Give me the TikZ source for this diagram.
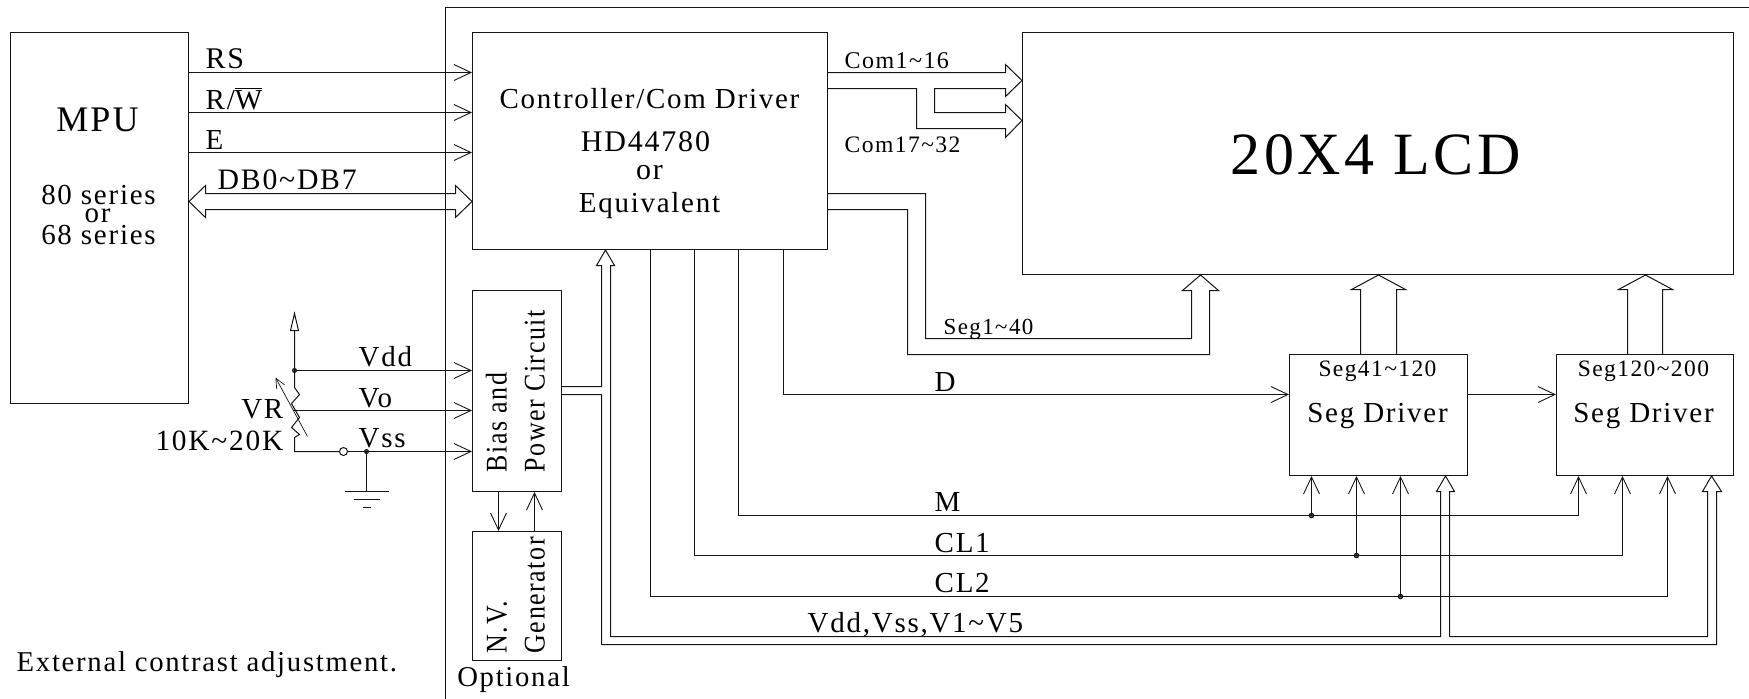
\documentclass[tikz,border=0pt]{standalone}
\usepackage{fontspec}
\usepackage{graphicx}
\setmainfont[LetterSpace=6]{Liberation Serif}
\usetikzlibrary{arrows.meta}
\newcommand\fz[1]{\fontsize{#1}{#1}\selectfont}
\newcommand\ovl[1]{\leavevmode\setbox0\hbox{#1}\rlap{\raisebox{1.12\ht0}{\rule{\wd0}{0.7pt}}}\box0}
\newcommand\narrow[1]{\scalebox{0.865}[1]{#1}}
\tikzset{
  wire/.style={line width=1pt,black!92},
  sig/.style={wire,-{Straight Barb[length=17pt,width=16pt,line width=0.9pt]}},
  fat/.style={wire,line join=miter},
  block/.style={draw,wire,rectangle,inner sep=0pt},
  lbl/.style={inner sep=0pt,anchor=base west,text=black},
  clbl/.style={inner sep=0pt,anchor=base,text=black},
  rlbl/.style={inner sep=0pt,anchor=base east,text=black},
  vlbl/.style={inner sep=0pt,anchor=base west,rotate=90,text=black},
  junction/.style={circle,draw,wire,fill=black!60,inner sep=0pt,minimum size=4.5pt},
  hollow/.style={circle,draw,wire,fill=white,inner sep=0pt,minimum size=8pt},
}
\begin{document}
\begin{tikzpicture}[x=1pt,y=-1pt,shift={(0.5,0.5)}]
\useasboundingbox (-0.5,-0.5) rectangle (1748.5,698.5);
% frame
\coordinate (frTR) at (1749,7);
\coordinate (frTL) at (445,7);
\coordinate (frBL) at (445,699);
\draw[wire] (frTR) -- (frTL) -- (frBL);
% blocks
\node[block,minimum width=178pt,minimum height=371pt] (mpu) at (99,217.5) {};
\node[block,minimum width=355pt,minimum height=217pt] (ctrl) at (649.5,140.5) {};
\node[block,minimum width=711pt,minimum height=242pt] (lcd) at (1377.5,153) {};
\node[block,minimum width=89pt,minimum height=201pt] (bias) at (516.5,390.5) {};
\node[block,minimum width=89pt,minimum height=129pt] (nv) at (516.5,595.5) {};
\node[block,minimum width=178pt,minimum height=121pt] (drvA) at (1378,414.5) {};
\node[block,minimum width=177pt,minimum height=121pt] (drvB) at (1644.5,414.5) {};
% MPU signals
\draw[sig] (mpu.east |- 0,72) -- (ctrl.west |- 0,72);
\draw[sig] (mpu.east |- 0,112) -- (ctrl.west |- 0,112);
\draw[sig] (mpu.east |- 0,152) -- (ctrl.west |- 0,152);
\draw[fat] (mpu.east |- 0,201) -- (205,185) -- (205,193) -- (455,193) -- (455,185) -- (ctrl.west |- 0,201)
  -- (455,217) -- (455,209) -- (205,209) -- (205,217) -- cycle;
% Com buses
\draw[fat] (ctrl.east |- 0,72) -- (1005,72) -- (1005,64) -- (lcd.west |- 0,80) -- (1005,96) -- (1005,88) -- (934,88)
  -- (934,112) -- (1005,112) -- (1005,104) -- (lcd.west |- 0,120) -- (1005,137) -- (1005,128) -- (916,128)
  -- (916,88) -- (ctrl.east |- 0,88);
% Seg1~40
\draw[fat] (ctrl.east |- 0,193) -- (925,193) -- (925,338) -- (1191,338) -- (1191,290) -- (1182,290)
  -- (lcd.south -| 1200,0) -- (1218,290) -- (1209,290) -- (1209,354) -- (907,354) -- (907,209) -- (ctrl.east |- 0,209);
% Seg driver buses to LCD
\draw[fat] (drvA.north -| 1360,0) -- (1360,289) -- (1351,289) -- (lcd.south -| 1378,0) -- (1405,289) -- (1396,289) -- (drvA.north -| 1396,0);
\draw[fat] (drvB.north -| 1627,0) -- (1627,289) -- (1618,289) -- (lcd.south -| 1645,0) -- (1672,289) -- (1662,289) -- (drvB.north -| 1662,0);
% D
\draw[sig] (ctrl.south -| 783,0) |- (drvA.west |- 0,394);
\draw[sig] (drvA.east |- 0,394) -- (drvB.west |- 0,394);
% M, CL1, CL2
\node[junction] (jM) at (1311,515) {};
\node[junction] (jC1) at (1356,555) {};
\node[junction] (jC2) at (1400,596) {};
\draw[wire] (ctrl.south -| 738,0) |- (jM.center);
\draw[sig] (jM.center) -| (drvB.south -| 1578,0);
\draw[sig] (jM.center) -- (drvA.south -| jM);
\draw[wire] (ctrl.south -| 694,0) |- (jC1.center);
\draw[sig] (jC1.center) -| (drvB.south -| 1622,0);
\draw[sig] (jC1.center) -- (drvA.south -| jC1);
\draw[wire] (ctrl.south -| 650,0) |- (jC2.center);
\draw[sig] (jC2.center) -| (drvB.south -| 1667,0);
\draw[sig] (jC2.center) -- (drvA.south -| jC2);
% Power bus
\draw[fat] (bias.east |- 0,386) -- (601,386) -- (601,265) -- (596,265) -- (ctrl.south -| 605,0) -- (614,265) -- (610,265)
  -- (610,636) -- (1440,636) -- (1440,491) -- (1436,491) -- (drvA.south -| 1445,0) -- (1454,491) -- (1449,491)
  -- (1449,636) -- (1707,636) -- (1707,491) -- (1702,491) -- (drvB.south -| 1711,0) -- (1721,491) -- (1716,491)
  -- (1716,644) -- (601,644) -- (601,394) -- (bias.east |- 0,394);
% Bias <-> NV
\draw[sig] (bias.south -| 498,0) -- (nv.north -| 498,0);
\draw[sig] (nv.north -| 534,0) -- (bias.south -| 534,0);
% VR circuit
\coordinate (vTop) at (294,330);
\node[junction,minimum size=4pt] (jV) at (294,370) {};
\node[hollow] (sw) at (343,451) {};
\node[junction,minimum size=4pt] (jG) at (366,451) {};
\coordinate (gnd) at (366,491);
\draw[fat] (vTop) -- (290,330) -- (294,313) -- (298,330) -- cycle;
\draw[wire] (vTop) -- (jV.center) -- (294,387) -- (299,394) -- (291,403) -- (299,417) -- (291,427) -- (299,434) -- (294,437) -- (294,451) -- (sw.west);
\draw[sig] (jV.center) -- (bias.west |- jV);
\draw[sig] (292,410) -- (bias.west |- 0,410);
\draw[wire] (sw.east) -- (jG.center);
\draw[sig] (jG.center) -- (bias.west |- jG);
\draw[wire] (jG.center) -- (gnd);
\draw[wire] (344,491) -- (388,491);
\draw[wire] (353,499) -- (379,499);
\draw[wire] (362,507) -- (370,507);
\coordinate (varA) at (307,436);
\coordinate (varB) at (275,377);
\draw[wire,line width=0.7pt,-{Straight Barb[length=10pt,width=9pt,line width=0.7pt]}] (varA) -- (varB);
% Labels
\node[clbl,font=\fz{36}] (tMPU) at (97,131) {MPU};
\node[clbl,font=\fz{29}] (t80) at (98,204) {80 series};
\node[clbl,font=\fz{29}] (tor1) at (97,222) {or};
\node[clbl,font=\fz{29}] (t68) at (98,244) {68 series};
\node[lbl,font=\fz{30}] (tRS) at (205,68) {RS};
\node[lbl,font=\fz{29}] (tRW) at (205,109) {R/\ovl{W}};
\node[lbl,font=\fz{29}] (tE) at (205,149) {E};
\node[lbl,font=\fz{29.7}] (tDB) at (217,189) {DB0\textasciitilde DB7};
\node[clbl,font=\fz{29}] (tCtl) at (649,108) {Controller/Com Driver};
\node[clbl,font=\fz{30}] (tHD) at (645,151) {HD44780};
\node[clbl,font=\fz{30}] (tor2) at (649,179) {or};
\node[clbl,font=\fz{29}] (tEq) at (649,212) {Equivalent};
\node[clbl,font=\fz{60}] (tLCD) at (1375,174) {20X4 LCD};
\node[lbl,font=\fz{24}] (tC1) at (844,68) {Com1\textasciitilde 16};
\node[lbl,font=\fz{23.6}] (tC2) at (844,152) {Com17\textasciitilde 32};
\node[lbl,font=\fz{23}] (tS1) at (943,334) {Seg1\textasciitilde 40};
\node[clbl,font=\fz{23.5}] (tS2) at (1377,376) {Seg41\textasciitilde 120};
\node[clbl,font=\fz{23.5}] (tS3) at (1643,376) {Seg120\textasciitilde 200};
\node[clbl,font=\fz{29}] (tDa) at (1377,422) {Seg Driver};
\node[clbl,font=\fz{29}] (tDb) at (1643,422) {Seg Driver};
\node[lbl,font=\fz{29}] (tD) at (934,391) {D};
\node[lbl,font=\fz{29}] (tM) at (934,511) {M};
\node[lbl,font=\fz{29}] (tCL1) at (934,552) {CL1};
\node[lbl,font=\fz{29}] (tCL2) at (934,592) {CL2};
\node[lbl,font=\fz{29}] (tVV) at (807,632) {Vdd,Vss,V1\textasciitilde V5};
\node[lbl,font=\fz{29}] (tVdd) at (358,366) {Vdd};
\node[lbl,font=\fz{29}] (tVo) at (358,407) {Vo};
\node[lbl,font=\fz{29}] (tVss) at (358,447) {Vss};
\node[rlbl,font=\fz{29}] (tVR) at (283,418) {VR};
\node[rlbl,font=\fz{29.4}] (tK) at (283,450) {10K\textasciitilde 20K};
\node[lbl,font=\fz{28.7}] (tExt) at (16,671) {External contrast adjustment.};
\node[clbl,font=\fz{28.7}] (tOpt) at (513,686) {Optional};
\node[vlbl,font=\fz{30}] (tBias) at (506,472) {\narrow{Bias and}};
\node[vlbl,font=\fz{30}] (tPow) at (544,472) {\narrow{Power Circuit}};
\node[vlbl,font=\fz{30}] (tNV) at (506,653) {\narrow{N.V.}};
\node[vlbl,font=\fz{30}] (tGen) at (544,653) {\narrow{Generator}};
\end{tikzpicture}
\end{document}
